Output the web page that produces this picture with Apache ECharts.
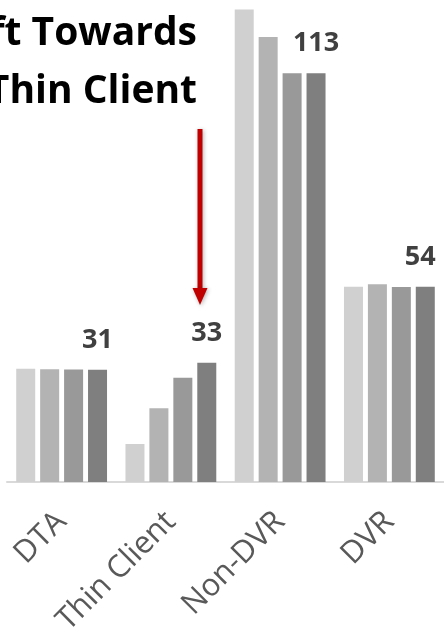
<!DOCTYPE html>
<html>
<head>
<meta charset="utf-8">
<script src="https://cdn.jsdelivr.net/npm/echarts@6/dist/echarts.min.js"></script>
<style>
  html, body { margin: 0; padding: 0; background: #ffffff; }
  #chart { width: 444px; height: 642px; }
</style>
</head>
<body>
<div id="chart"></div>
<script>
// Set-top box mix by device type, four periods per group
const categories = ['DTA', 'Thin Client', 'Non-DVR', 'DVR'];
const period1 = [31.3, 10.5, 130.6, 54.0];
const period2 = [31.2, 20.4, 123.0, 54.7];
const period3 = [31.1, 28.8, 113.0, 53.9];
const period4 = [31, 33, 113, 54];

const barColors = ['#d0d0d0', '#b3b3b3', '#999999', '#7f7f7f'];
const seriesData = [period1, period2, period3, period4];

const chart = echarts.init(document.getElementById('chart'), null, { renderer: 'canvas' });

const series = seriesData.map((vals, i) => ({
  type: 'bar',
  name: 'Period ' + (i + 1),
  data: vals.map((v, j) => {
    const item = { value: v };
    if (i === 3 && j === 3) item.label = { offset: [-5, 0] };
    return item;
  }),
  barWidth: 19,
  barGap: '26%',
  itemStyle: { color: barColors[i] },
  label: i === 3 ? {
    show: true,
    position: 'top',
    distance: 16,
    fontFamily: 'Open Sans',
    fontWeight: 'bold',
    fontSize: 27,
    color: '#404040'
  } : { show: false }
}));

chart.setOption({
  animation: false,
  backgroundColor: '#ffffff',
  grid: { left: 7, width: 442, top: 0, bottom: 160, containLabel: false },
  xAxis: {
    type: 'category',
    data: categories,
    axisLine: { lineStyle: { color: '#d9d9d9', width: 2 } },
    axisTick: { show: false },
    axisLabel: {
      rotate: 45,
      margin: 35,
      padding: [12, 0, 0, 0],
      fontFamily: 'Open Sans',
      fontSize: 31,
      color: '#595959'
    }
  },
  yAxis: {
    type: 'value',
    min: 0,
    max: 133.26,
    show: false,
    splitLine: { show: false }
  },
  series: series,
  graphic: [
    {
      type: 'text',
      right: 247,
      top: 14,
      style: {
        text: 'Shift Towards',
        font: 'bold 39px "Open Sans"',
        fill: '#000000',
        textAlign: 'right'
      }
    },
    {
      type: 'text',
      right: 247,
      top: 72,
      style: {
        text: 'Thin Client',
        font: 'bold 39px "Open Sans"',
        fill: '#000000',
        textAlign: 'right'
      }
    },
    {
      type: 'group',
      children: [
        {
          type: 'rect',
          shape: { x: 197.5, y: 129, width: 5, height: 160 },
          style: { fill: '#c00000', shadowBlur: 4, shadowColor: 'rgba(0,0,0,0.3)', shadowOffsetX: 1, shadowOffsetY: 1 }
        },
        {
          type: 'polygon',
          shape: { points: [[192.5, 288], [207.5, 288], [200, 305]] },
          style: { fill: '#c00000', shadowBlur: 4, shadowColor: 'rgba(0,0,0,0.3)', shadowOffsetX: 1, shadowOffsetY: 1 }
        }
      ]
    }
  ]
});
</script>
</body>
</html>
